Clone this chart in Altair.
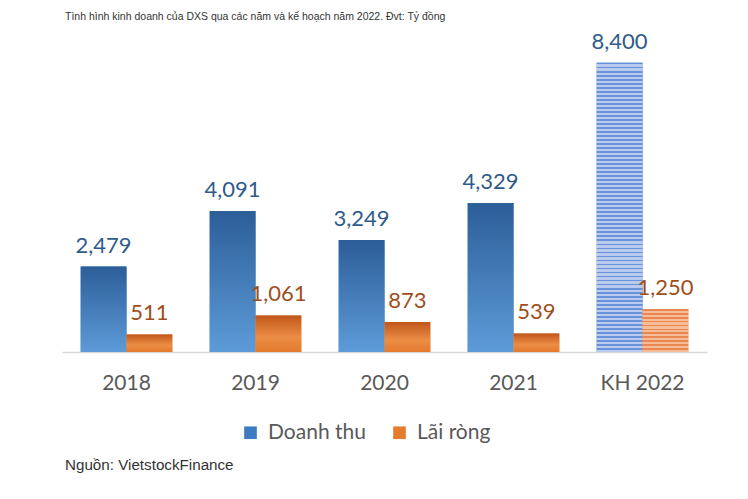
import altair as alt
import pandas as pd

years = ["2018", "2019", "2020", "2021", "KH 2022"]
revenue = [2479, 4091, 3249, 4329, 8400]
profit = [511, 1061, 873, 539, 1250]
series_names = ["Doanh thu", "Lãi ròng"]
title_text = "Tình hình kinh doanh của DXS qua các năm và kế hoạch năm 2022. Đvt: Tỷ đồng"
source_text = ["Nguồn: VietstockFinance"]

rows = []
for y, r, p in zip(years, revenue, profit):
    rows.append({"year": y, "series": series_names[0], "value": r})
    rows.append({"year": y, "series": series_names[1], "value": p})
df = pd.DataFrame(rows)

W, H = 645, 310
NUM_FONT = "Lato"

x_enc = alt.X("year:N", sort=years,
              scale=alt.Scale(paddingInner=0.29, paddingOuter=0.145),
              axis=alt.Axis(title=None, labelAngle=0, ticks=False, labelPadding=20,
                            labelFontSize=21, labelFont=NUM_FONT, labelColor="#595959",
                            domainColor="#D9D9D9", domainWidth=1.5, grid=False))
xo_enc = alt.XOffset("series:N", sort=series_names,
                     scale=alt.Scale(paddingInner=0, paddingOuter=0))
y_enc = alt.Y("value:Q", scale=alt.Scale(domain=[0, 9000]), axis=None)


def lin(stops):
    return alt.Gradient(gradient="linear", x1=0, x2=0, y1=0, y2=1,
                        stops=[alt.GradientStop(color=c, offset=o) for o, c in stops])


def stripes(n, line, bg, frac=0.45):
    st = []
    for i in range(n):
        a = i / n
        b = (i + frac) / n
        c = (i + 1) / n
        st += [(a, line), (b, line), (b, bg), (c, bg)]
    return lin(st)


base = alt.Chart(df)

legend_bars = base.mark_bar().encode(
    x=x_enc, xOffset=xo_enc, y=y_enc,
    color=alt.Color("series:N", sort=series_names,
                    scale=alt.Scale(domain=series_names, range=["#3D7CC0", "#E57B2C"]),
                    legend=alt.Legend(title=None, orient="none", direction="horizontal",
                                      legendX=178, legendY=380,
                                      symbolType="square", symbolSize=160,
                                      symbolStrokeWidth=0,
                                      labelFontSize=21, labelFont=NUM_FONT,
                                      labelColor="#595959", labelOffset=7,
                                      columnPadding=23))
)

actual = "datum.year != 'KH 2022'"
plan = "datum.year == 'KH 2022'"

blue_grad = base.mark_bar(color=lin([(0, "#2C5E98"), (1, "#5D9BD8")])).encode(
    x=x_enc, xOffset=xo_enc, y=y_enc
).transform_filter(f"datum.series == 'Doanh thu' && {actual}")

orange_grad = base.mark_bar(color=lin([(0, "#C0561A"), (0.6, "#EC8D45"), (1, "#E27A2E")])).encode(
    x=x_enc, xOffset=xo_enc, y=y_enc
).transform_filter(f"datum.series == 'Lãi ròng' && {actual}")

blue_plan = base.mark_bar(color=stripes(72, "#6A92DA", "#B9CCEE")).encode(
    x=x_enc, xOffset=xo_enc, y=y_enc
).transform_filter(f"datum.series == 'Doanh thu' && {plan}")

orange_plan = base.mark_bar(color=stripes(11, "#E98650", "#F6BE98")).encode(
    x=x_enc, xOffset=xo_enc, y=y_enc
).transform_filter(f"datum.series == 'Lãi ròng' && {plan}")

blue_text = base.mark_text(font=NUM_FONT, fontSize=22, color="#2F5B8A",
                           baseline="alphabetic", dy=-14).encode(
    x=x_enc, xOffset=xo_enc, y=y_enc, text=alt.Text("value:Q", format=",")
).transform_filter("datum.series == 'Doanh thu'")

orange_text = base.mark_text(font=NUM_FONT, fontSize=22, color="#9E4E1C",
                             baseline="alphabetic", dy=-14).encode(
    x=x_enc, xOffset=xo_enc, y=y_enc, text=alt.Text("value:Q", format=",")
).transform_filter("datum.series == 'Lãi ròng'")

footer = alt.Chart(pd.DataFrame({"t": source_text})).mark_text(
    font="Liberation Sans", fontSize=15.2, color="#333333", align="left", baseline="middle"
).encode(x=alt.value(3), y=alt.value(423), text="t:N")

chart = alt.layer(
    legend_bars, blue_grad, orange_grad, blue_plan, orange_plan, blue_text, orange_text, footer
).properties(
    width=W, height=H,
    title=alt.TitleParams(title_text, anchor="start", frame="group", offset=8, dx=3,
                          font="Liberation Sans", fontSize=10.5, fontWeight="normal",
                          color="#333333"),
    autosize=alt.AutoSizeParams(type="none"),
    padding={"left": 54, "top": 34, "right": 33, "bottom": 139},
).configure_view(stroke=None)

chart.save("out.html", embed_options={"renderer": "svg", "actions": False})
